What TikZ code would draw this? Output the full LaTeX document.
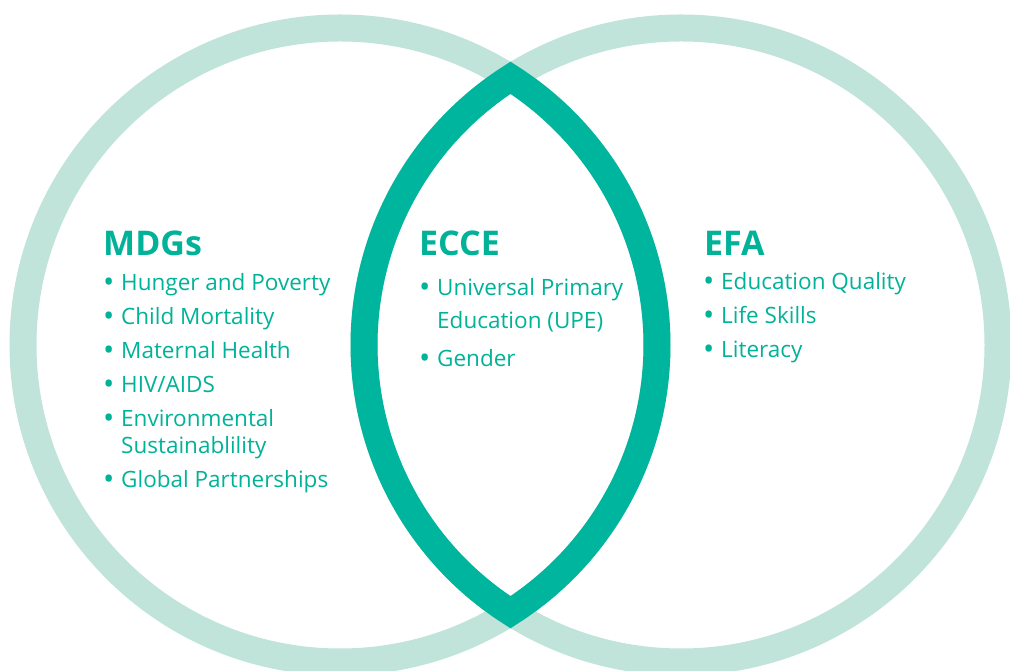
\documentclass[tikz,border=0pt]{standalone}
\usepackage{fontspec}
\setmainfont{Open Sans}
\usepackage{tikz}
\usetikzlibrary{calc}

\definecolor{ringlight}{RGB}{192,227,218}
\definecolor{ringdark}{RGB}{0,181,157}
\definecolor{teal}{RGB}{0,178,152}
\newcommand{\bul}{\makebox[17pt][l]{\hspace{-1pt}\raisebox{-2pt}{\fontsize{30}{30}\selectfont\textbullet}}}

\begin{document}
\begin{tikzpicture}[x=1pt, y=1pt,
        ring/.style={draw=ringlight, line width=27pt},
        lens/.style={draw=ringdark, line width=27pt, line join=miter},
        head/.style={anchor=base west, inner sep=0pt, text=teal, font=\fontsize{34}{38}\selectfont\bfseries},
        item/.style={anchor=base west, inner sep=0pt, text=teal, font=\fontsize{22.5}{27}\selectfont}]
        \useasboundingbox (0,0) rectangle (1010,671);

        \coordinate (C1) at (340,326);
        \coordinate (C2) at (681,326);

        % two rings and the overlap
        \draw[ring] (C1) circle (317);
        \draw[ring] (C2) circle (317);
        \draw[lens] ($(C2)+(122.54:317)$) arc[start angle=122.54, end angle=237.46, radius=317]
            arc[start angle=-57.46, end angle=57.46, radius=317] -- cycle;

        % MDGs
        \node[head] (MDGs) at (103,415) {MDGs};
        \node[item] (M1) at (104,380) {\bul Hunger and Poverty};
        \node[item] (M2) at (104,346) {\bul Child Mortality};
        \node[item] (M3) at (104,312) {\bul Maternal Health};
        \node[item] (M4) at (104,278) {\bul HIV/AIDS};
        \node[item] (M5) at (104,244) {\bul Environmental};
        \node[item] (M5b) at (121,217) {Sustainablility};
        \node[item] (M6) at (104,183) {\bul Global Partnerships};

        % ECCE
        \node[head] (ECCE) at (419,415) {ECCE};
        \node[item] (E1) at (420,375) {\bul Universal Primary};
        \node[item] (E1b) at (437,342) {Education (UPE)};
        \node[item] (E2) at (420,304) {\bul Gender};

        % EFA
        \node[head] (EFA) at (704,415) {EFA};
        \node[item] (F1) at (704,381) {\bul Education Quality};
        \node[item] (F2) at (704,347) {\bul Life Skills};
        \node[item] (F3) at (704,313) {\bul Literacy};
    \end{tikzpicture}
\end{document}
